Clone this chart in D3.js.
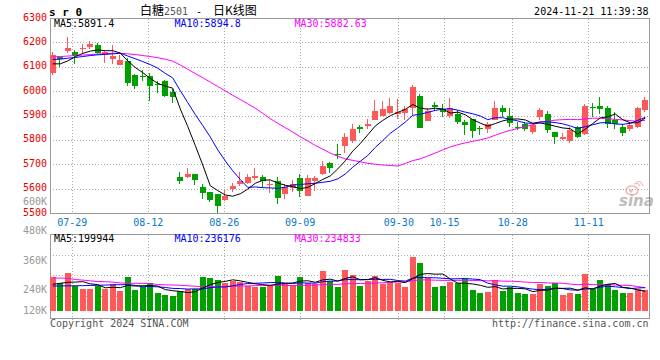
<!DOCTYPE html>
<html>
<head>
<meta charset="utf-8">
<script src="https://cdn.jsdelivr.net/npm/d3@7"></script>
<style>
  body { margin: 0; background: #fff; }
  svg text { font-family: "DejaVu Sans Mono", monospace; font-size: 10px; }
</style>
</head>
<body>
<svg id="chart" width="660" height="360"></svg>
<script>
// SR0 (白糖2501) daily K-line, 2024-07-24 .. 2024-11-21

const dates = ["07-24","07-25","07-26","07-29","07-30","07-31","08-01","08-02","08-05","08-06",
  "08-07","08-08","08-09","08-12","08-13","08-14","08-15","08-16","08-19","08-20",
  "08-21","08-22","08-23","08-26","08-27","08-28","08-29","08-30","09-02","09-03",
  "09-04","09-05","09-06","09-09","09-10","09-11","09-12","09-13","09-18","09-19",
  "09-20","09-23","09-24","09-25","09-26","09-27","09-30","10-08","10-09","10-10",
  "10-11","10-14","10-15","10-16","10-17","10-18","10-21","10-22","10-23","10-24",
  "10-25","10-28","10-29","10-30","10-31","11-01","11-04","11-05","11-06","11-07",
  "11-08","11-11","11-12","11-13","11-14","11-15","11-18","11-19","11-20","11-21"];

const open = [6076,6141,6168,6164,6174,6182,6193,6151,6132,6111,
  6125,6070,6065,6066,6032,6042,5998,5650,5650,5661,
  5609,5589,5578,5555,5600,5620,5626,5646,5650,5619,
  5632,5578,5605,5647,5572,5632,5661,5707,5746,5777,
  5797,5855,5857,5885,5902,5912,5907,5913,5934,5984,
  5879,5947,5930,5898,5909,5875,5886,5851,5848,5885,
  5934,5902,5855,5866,5834,5896,5909,5834,5806,5797,
  5855,5825,5937,5939,5933,5882,5855,5845,5855,5926];
const high = [6164,6144,6226,6171,6196,6209,6200,6171,6193,6151,
  6138,6071,6089,6077,6042,6048,6012,5671,5686,5663,
  5620,5590,5582,5596,5627,5671,5661,5687,5657,5639,
  5650,5623,5639,5664,5657,5653,5714,5711,5784,5830,
  5866,5862,5886,5964,5960,5975,5968,5943,6029,5990,
  5934,5957,5950,5973,5923,5885,5889,5857,5875,5960,
  5947,5934,5875,5875,5866,5934,5920,5835,5832,5855,
  5857,5950,5953,5980,5943,5916,5866,5871,5937,5978];
const low = [6069,6100,6160,6114,6155,6173,6155,6117,6114,6110,
  6023,6009,6042,5961,5994,5980,5953,5620,5647,5617,
  5559,5548,5503,5552,5589,5613,5620,5636,5605,5585,
  5541,5561,5589,5568,5572,5593,5657,5666,5725,5748,
  5789,5830,5848,5882,5898,5907,5886,5882,5898,5850,
  5879,5926,5896,5893,5866,5821,5811,5821,5830,5882,
  5896,5855,5841,5838,5825,5882,5830,5784,5803,5789,
  5811,5823,5896,5909,5852,5848,5817,5838,5852,5916];
const close = [6152,6133,6177,6145,6178,6196,6159,6162,6145,6128,
  6035,6025,6059,6023,6026,5984,5977,5634,5662,5636,
  5585,5555,5531,5572,5613,5632,5650,5654,5632,5623,
  5564,5609,5620,5593,5647,5646,5695,5687,5740,5814,
  5845,5848,5868,5920,5927,5943,5916,5930,6021,5852,
  5920,5937,5916,5934,5875,5862,5838,5845,5868,5934,
  5916,5872,5851,5848,5862,5923,5844,5814,5814,5844,
  5814,5943,5931,5930,5868,5868,5830,5862,5933,5967];

// moving average lines as they appear on the chart
const ma5 = [6114,6114,6126,6143,6157,6166,6171,6168,6168,6158,
  6126,6099,6078,6054,6034,6023,6014,5929,5857,5779,
  5699,5614,5594,5576,5571,5581,5600,5624,5636,5638,
  5625,5616,5610,5602,5607,5623,5640,5654,5683,5716,
  5756,5787,5823,5859,5882,5901,5915,5927,5947,5932,
  5928,5932,5929,5912,5916,5905,5885,5871,5858,5869,
  5880,5887,5888,5884,5870,5871,5866,5858,5851,5848,
  5826,5846,5869,5892,5897,5908,5885,5872,5872,5891.4];
const ma10 = [6132,6133,6137,6140,6144,6148,6151,6153,6155,6158,
  6146,6135,6123,6111,6096,6075,6056,6004,5955,5906,
  5861,5814,5761,5716,5675,5640,5607,5609,5606,5605,
  5603,5608,5617,5619,5622,5624,5628,5632,5642,5662,
  5690,5714,5738,5771,5799,5829,5851,5875,5903,5907,
  5915,5923,5928,5930,5924,5916,5909,5900,5885,5893,
  5893,5886,5880,5871,5870,5876,5876,5873,5868,5859,
  5849,5856,5864,5872,5873,5867,5866,5870,5882,5894.8];
const ma30 = [6143,6144,6146,6148,6150,6152,6154,6156,6157,6157,
  6155,6152,6148,6144,6139,6133,6125,6109,6092,6074,
  6057,6039,6021,6003,5985,5968,5950,5932,5911,5889,
  5870,5852,5834,5815,5798,5779,5764,5748,5735,5724,
  5718,5712,5706,5702,5699,5697,5695,5705,5717,5724,
  5736,5748,5761,5773,5782,5790,5796,5802,5810,5821,
  5832,5841,5849,5857,5864,5874,5879,5883,5885,5886,
  5885,5888,5891,5891,5889,5886,5884,5881,5878,5882.63];

// volume, in thousands of lots
const volK = [340,283,387,249,225,225,249,222,276,205,
  343,212,242,283,182,162,155,207,225,225,
  343,333,313,283,303,290,256,239,245,266,
  354,283,266,343,283,276,404,303,245,414,
  364,256,303,354,270,290,280,242,548,488,
  336,245,253,296,280,323,215,185,195,313,
  205,245,185,172,172,270,256,283,162,182,
  172,374,219,313,273,212,179,179,222,212];
const vma5 = [270,280,290,292,296.8,273.8,267,234,239.4,235.4,
  259,251.6,255.6,257,252.4,216.2,204.8,197.8,186.2,194.8,
  231,266.6,287.8,299.4,315,304.4,289,274.2,266.6,259.2,
  272,277.4,282.8,302.4,305.8,290.2,314.4,321.8,302.2,328.4,
  346,316.4,316.4,338.2,309.4,294.6,299.4,287.2,326,369.6,
  378.8,371.8,374,323.6,282,279.4,273.4,259.8,239.6,246.2,
  222.6,228.6,228.6,224,195.8,208.8,211,230.6,228.6,230.6,
  211,234.6,221.8,252,270.2,278.2,239.2,231.2,213,199.944];
const vma10 = [252,253,254,255,256,258,260,262,264,266.1,
  266.4,259.3,244.8,248.2,243.9,237.6,228.2,226.7,221.6,223.6,
  223.6,235.7,242.8,242.8,254.9,267.7,277.8,281,283,287.1,
  288.2,283.2,278.5,284.5,282.5,281.1,295.9,302.3,302.3,317.1,
  318.1,315.4,319.1,320.2,318.9,320.3,307.9,301.8,332.1,339.5,
  336.7,335.6,330.6,324.8,325.8,329.1,322.6,316.9,281.6,264.1,
  251,251,244.2,231.8,221,215.7,219.8,229.6,226.3,213.2,
  209.9,222.8,226.2,240.3,250.4,244.6,236.9,226.5,232.5,236.176];
const vma30 = [333,333,330,318,312,305,298,296,292,284,
  281,280,279,276,268,264,263,260,255,250,
  248,246,246,248,250,252,254,256,257,258.9,
  259.4,259.4,255.4,258.5,260.4,262.1,267.3,270,269,275.9,
  276.6,278.1,280.1,282.5,285.4,289.7,293.9,295,305.8,314.6,
  314.3,311.4,309.4,309.8,309.1,310.2,308.8,307,305.3,306.9,
  301.9,300.7,298,292.3,288.6,288.4,283.4,282.8,280,272.3,
  265.9,269.8,267,265.6,265.7,263.1,259.8,257.7,246.8,234.833];

const tickDates = ["07-29","08-12","08-26","09-09","09-30","10-15","10-28","11-11"];
const priceTicks = [5500,5600,5700,5800,5900,6000,6100,6200,6300];
const volTicks = ["600K","480K","360K","240K","120K"];
const volTickValues = [600,480,360,240,120];

const RED = "#ff5858", GREEN = "#00a000";
const GRID = "#aaa", BORDER = "#999";

const svg = d3.select("#chart");
const n = dates.length;

// scales
const xBand = d3.scaleBand().domain(d3.range(n)).range([49, 649]);
const cx = i => xBand(i) + xBand.bandwidth() / 2;
const xGrid = d3.scaleLinear().domain([0, n - 1]).range([49.5, 649.5]);
const yP = d3.scaleLinear().domain([5500, 6300]).range([213.5, 18.5]);
const yV = d3.scaleLinear().domain([0, 775]).range([311, 234.3]);
// the sina volume labels sit on their own spacing
const yVLabel = d3.scaleLinear().domain([240, 480]).range([289.3, 230.7]);
const volGrid = d3.scaleLinear().domain([0, 4]).range([234.5, 316.5]);
const crisp = v => Math.floor(v) + 0.5;

// ---- grid ----
const grid = svg.append("g")
  .attr("stroke", GRID).attr("stroke-dasharray", "1,2").attr("shape-rendering", "crispEdges");

grid.selectAll(".hp").data(priceTicks.slice(1, -1)).enter().append("line")
  .attr("x1", 50).attr("x2", 649)
  .attr("y1", d => crisp(yP(d))).attr("y2", d => crisp(yP(d)));

grid.selectAll(".hv").data([1, 2, 3]).enter().append("line")
  .attr("x1", 50).attr("x2", 649)
  .attr("y1", d => crisp(volGrid(d))).attr("y2", d => crisp(volGrid(d)));

const tickIdx = tickDates.map(t => dates.indexOf(t));
tickIdx.forEach(i => {
  const x = crisp(xGrid(i));
  grid.append("line").attr("x1", x).attr("x2", x).attr("y1", 19).attr("y2", 213);
  grid.append("line").attr("x1", x).attr("x2", x).attr("y1", 235).attr("y2", 321);
});

// ---- borders ----
svg.append("rect").attr("x", 50.5).attr("y", 18.5).attr("width", 599).attr("height", 195)
  .attr("fill", "none").attr("stroke", BORDER);
svg.append("rect").attr("x", 50.5).attr("y", 234.5).attr("width", 599).attr("height", 84)
  .attr("fill", "none").attr("stroke", BORDER);

// ---- candles ----
const candles = svg.append("g").attr("shape-rendering", "crispEdges");
d3.range(n).forEach(i => {
  const up = close[i] >= open[i];
  const col = up ? RED : GREEN;
  const bx = Math.round(cx(i) - 3);
  candles.append("line")
    .attr("x1", bx + 2.5).attr("x2", bx + 2.5)
    .attr("y1", yP(high[i])).attr("y2", yP(low[i]))
    .attr("stroke", col);
  const top = yP(Math.max(open[i], close[i]));
  const h = Math.max(1, Math.abs(yP(open[i]) - yP(close[i])));
  candles.append("rect")
    .attr("x", bx).attr("y", top).attr("width", 6).attr("height", h)
    .attr("fill", col);
});

// ---- volume bars ----
svg.append("g").attr("shape-rendering", "crispEdges")
  .selectAll("rect").data(volK).enter().append("rect")
  .attr("x", (d, i) => Math.round(cx(i) - 3))
  .attr("y", d => yV(d))
  .attr("width", 6)
  .attr("height", d => yV(0) - yV(d))
  .attr("fill", (d, i) => close[i] >= open[i] ? RED : GREEN);

// ---- MA lines ----
const lineP = d3.line().x((d, i) => cx(i)).y(d => yP(d));
const lineV = d3.line().x((d, i) => cx(i)).y(d => yV(d));
[[ma30, "#ff00ff"], [ma10, "#0000ff"], [ma5, "#000"]].forEach(([s, c]) => {
  svg.append("path").attr("d", lineP(s)).attr("fill", "none").attr("stroke", c).attr("stroke-width", 1);
});
[[vma30, "#ff00ff"], [vma10, "#0000ff"], [vma5, "#000"]].forEach(([s, c]) => {
  svg.append("path").attr("d", lineV(s)).attr("fill", "none").attr("stroke", c).attr("stroke-width", 1);
});

// ---- axis labels ----
svg.selectAll(".pl").data(priceTicks).enter().append("text")
  .attr("x", 47).attr("y", d => yP(d) - 1.5).attr("dy", "0.35em")
  .attr("text-anchor", "end").attr("fill", "#e60000").text(d => d);

svg.selectAll(".vl").data(volTickValues).enter().append("text")
  .attr("x", 47).attr("y", d => Math.min(yVLabel(d), 310)).attr("dy", "0.35em")
  .attr("text-anchor", "end").attr("fill", "#999").text((d, i) => volTicks[i]);

svg.selectAll(".dl").data(tickIdx).enter().append("text")
  .attr("x", d => xGrid(d)).attr("y", 225.5)
  .attr("text-anchor", "middle").attr("fill", "#0a78c8").text(d => dates[d]);

// ---- legends ----
const last = n - 1;
const legend = (y, items) => items.forEach(([x, t, c]) =>
  svg.append("text").attr("x", x).attr("y", y).attr("fill", c).text(t));
legend(27, [[54, "MA5:" + ma5[last], "#000"], [174.5, "MA10:" + ma10[last], "#0000ff"],
  [294.5, "MA30:" + ma30[last], "#ff00ff"]]);
legend(242, [[54, "MA5:" + Math.round(vma5[last] * 1000), "#000"],
  [174.5, "MA10:" + Math.round(vma10[last] * 1000), "#0000ff"],
  [294.5, "MA30:" + Math.round(vma30[last] * 1000), "#ff00ff"]]);

// ---- titles ----
svg.append("text").attr("x", 49).attr("y", 15.5)
  .style("font-weight", "bold").style("font-size", "11px").attr("fill", "#000").text("s r 0");
const cjk = { "font-family": "'Noto Sans CJK SC', sans-serif", "font-size": "12px" };
svg.append("text").attr("x", 140).attr("y", 15).style("font-family", cjk["font-family"])
  .style("font-size", cjk["font-size"]).attr("fill", "#000").text("白糖");
svg.append("text").attr("x", 164).attr("y", 15).attr("fill", "#555").text("2501");
svg.append("text").attr("x", 196).attr("y", 15).attr("fill", "#000").text("-");
svg.append("text").attr("x", 213).attr("y", 15).style("font-family", cjk["font-family"])
  .style("font-size", cjk["font-size"]).attr("fill", "#000").text("日K线图");
svg.append("text").attr("x", 648.5).attr("y", 15).attr("text-anchor", "end")
  .attr("fill", "#000").text("2024-11-21 11:39:38");

// ---- footer ----
svg.append("text").attr("x", 50).attr("y", 327).attr("fill", "#555").text("Copyright 2024 SINA.COM");
svg.append("text").attr("x", 648.5).attr("y", 327).attr("text-anchor", "end")
  .attr("fill", "#555").text("http://finance.sina.com.cn");

// ---- sina watermark ----
const wm = svg.append("g").attr("opacity", 0.55);
wm.append("ellipse").attr("cx", 632).attr("cy", 190.5).attr("rx", 6).attr("ry", 4.5)
  .attr("fill", "none").attr("stroke", "#f08080").attr("stroke-width", 1.6);
wm.append("circle").attr("cx", 631).attr("cy", 191).attr("r", 1.8).attr("fill", "#f08080");
wm.append("path").attr("d", "M634,184 q4,-2 6,2 M636,182 q5,-2 7,4")
  .attr("fill", "none").attr("stroke", "#f08080").attr("stroke-width", 1.2);
wm.append("text").attr("x", 619).attr("y", 206)
  .style("font-family", "'DejaVu Sans', sans-serif").style("font-size", "15px")
  .style("font-weight", "bold").style("font-style", "italic")
  .attr("fill", "#888").text("sina");
</script>
</body>
</html>
